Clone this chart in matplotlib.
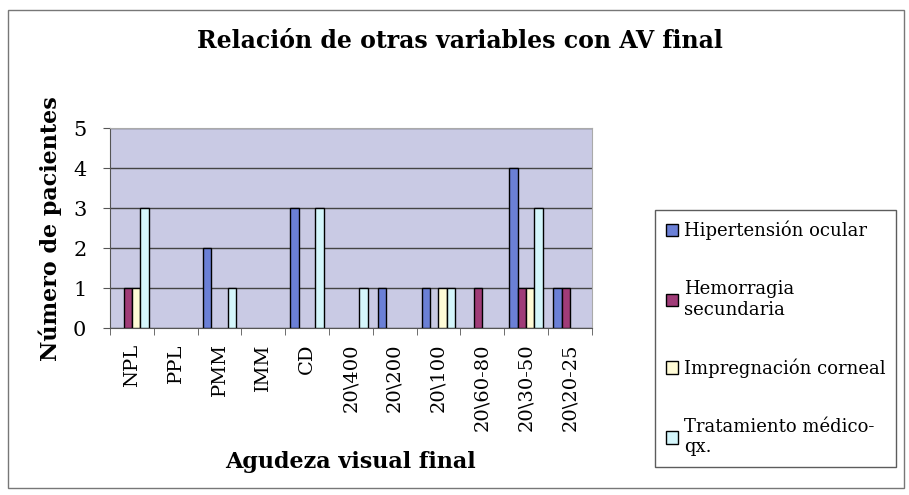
import matplotlib.pyplot as plt
import numpy as np
from matplotlib.patches import Rectangle, Patch

# Data
categorias = ['NPL', 'PPL', 'PMM', 'IMM', 'CD', '20\\400', '20\\200',
              '20\\100', '20\\60-80', '20\\30-50', '20\\20-25']
hipertension = [0, 0, 2, 0, 3, 0, 1, 1, 0, 4, 1]
hemorragia = [1, 0, 0, 0, 0, 0, 0, 0, 1, 1, 1]
impregnacion = [1, 0, 0, 0, 0, 0, 0, 1, 0, 1, 0]
tratamiento = [3, 0, 1, 0, 3, 1, 0, 1, 0, 3, 0]

series = [
    ('Hipertensión ocular', hipertension, '#6b80d6'),
    ('Hemorragia\nsecundaria', hemorragia, '#a03c78'),
    ('Impregnación corneal', impregnacion, '#fffbd6'),
    ('Tratamiento médico-\nqx.', tratamiento, '#d4f6fb'),
]

plt.rcParams['font.family'] = 'DejaVu Serif'

fig = plt.figure(figsize=(9.09, 4.95), dpi=100)
ax = fig.add_axes([0.121, 0.337, 0.530, 0.404])
ax.set_facecolor('#c9cae4')

x = np.arange(len(categorias))
w = 0.19
handles = []
for i, (nombre, vals, color) in enumerate(series):
    # no outline for empty bars, so zero values leave no mark
    lw = [1.0 if v > 0 else 0 for v in vals]
    ax.bar(x + (i - 1.5) * w, vals, w, color=color, edgecolor='black',
           linewidth=lw, zorder=3)
    handles.append(Patch(facecolor=color, edgecolor='black', linewidth=1.0, label=nombre))

ax.set_xlim(-0.5, len(categorias) - 0.5)
ax.set_ylim(0, 5)
ax.set_yticks(range(6))
ax.yaxis.grid(True, color='#444444', linewidth=1.0, zorder=1)
ax.set_axisbelow(True)

ax.set_xticks(x)
ax.set_xticklabels(categorias, rotation=90, fontsize=14)
ax.set_xticks(np.arange(-0.5, len(categorias)), minor=True)
ax.tick_params(axis='x', which='major', length=0, pad=11)
ax.tick_params(axis='x', which='minor', length=5, direction='out', color='#555555')
ax.tick_params(axis='y', length=5, direction='out', color='#555555', pad=12, labelsize=15)

for s in ['left', 'bottom']:
    ax.spines[s].set_color('#555555')
for s in ['top', 'right']:
    ax.spines[s].set_color('#aaaaaa')

ax.set_ylabel('Número de pacientes', fontsize=16, fontweight='bold', labelpad=8)
ax.set_xlabel('Agudeza visual final', fontsize=16, fontweight='bold', labelpad=14)
fig.text(0.506, 0.918, 'Relación de otras variables con AV final',
         ha='center', va='center', fontsize=17, fontweight='bold')

leg = fig.legend(handles=handles, loc='center left', bbox_to_anchor=(0.7206, 0.316),
                 fontsize=13, frameon=True, fancybox=False, edgecolor='#333333',
                 handlelength=0.7, handleheight=0.7, handletextpad=0.3,
                 labelspacing=2.2, borderpad=0.6, borderaxespad=0)
leg.get_frame().set_linewidth(1.0)

fig.patches.append(Rectangle((0.009, 0.014), 0.986, 0.966, transform=fig.transFigure,
                             fill=False, edgecolor='#777777', linewidth=1.0))

fig.savefig('out.png', dpi=100, facecolor='white')
